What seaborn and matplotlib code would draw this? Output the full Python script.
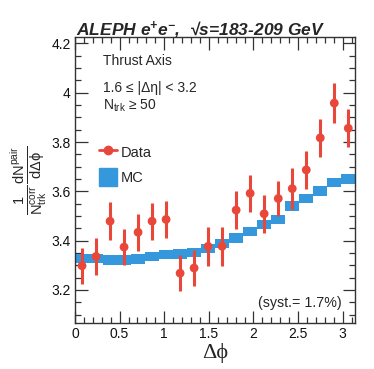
import numpy as np
import pandas as pd
import matplotlib
matplotlib.use("Agg")
import matplotlib.pyplot as plt
from matplotlib.lines import Line2D
from matplotlib.patches import Patch
from matplotlib.ticker import MultipleLocator
import seaborn as sns

# bin centers in delta phi (20 bins from 0 to pi)
dphi = [0.079, 0.236, 0.393, 0.550, 0.707, 0.864, 1.021, 1.178, 1.335, 1.492,
        1.649, 1.806, 1.963, 2.120, 2.278, 2.435, 2.592, 2.749, 2.906, 3.063]
data_y = [3.298, 3.336, 3.479, 3.374, 3.434, 3.479, 3.486, 3.268, 3.289, 3.377,
          3.377, 3.524, 3.592, 3.509, 3.571, 3.611, 3.687, 3.817, 3.958, 3.856]
data_err = [0.074, 0.074, 0.076, 0.074, 0.076, 0.075, 0.076, 0.073, 0.074, 0.078,
            0.078, 0.076, 0.076, 0.078, 0.073, 0.082, 0.077, 0.076, 0.080, 0.078]
mc_y = [3.328, 3.328, 3.321, 3.321, 3.326, 3.335, 3.344, 3.346, 3.352, 3.367,
        3.389, 3.411, 3.438, 3.465, 3.487, 3.540, 3.571, 3.602, 3.635, 3.650]
mc_err = 0.019

red = "#e8473a"
blue = "#3598dc"

sns.set_theme(style="ticks")
plt.rcParams["font.family"] = ["Liberation Sans", "DejaVu Sans"]
plt.rcParams["mathtext.fontset"] = "custom"
plt.rcParams["mathtext.rm"] = "Liberation Sans"
plt.rcParams["mathtext.it"] = "Liberation Sans:italic"
plt.rcParams["mathtext.bf"] = "Liberation Sans:bold:italic"

df = pd.DataFrame({"dphi": dphi, "y": data_y, "err": data_err})

fig = plt.figure(figsize=(3.74, 3.69), dpi=100)
ax = fig.add_axes([0.2005, 0.124, 0.7495, 0.775])

# MC band drawn as steps
width = np.pi / 20
edges = np.append(np.array(dphi) - width / 2, np.pi)
mc = np.append(mc_y, mc_y[-1])
ax.fill_between(edges, mc - mc_err, mc + mc_err, step="post", color=blue,
                lw=0, zorder=2)

ax.errorbar(df["dphi"], df["y"], yerr=df["err"], fmt="none", ecolor=red,
            elinewidth=2.2, capsize=0, zorder=3)
sns.scatterplot(data=df, x="dphi", y="y", color=red, s=40, edgecolor="none",
                ax=ax, zorder=4, legend=False)

ax.set_xlim(0, np.pi)
ax.set_ylim(3.065, 4.225)
ax.xaxis.set_minor_locator(MultipleLocator(0.1))
ax.yaxis.set_minor_locator(MultipleLocator(0.05))
ax.set_xticks([0, 0.5, 1, 1.5, 2, 2.5, 3])
ax.set_xticklabels(["0", "0.5", "1", "1.5", "2", "2.5", "3"])
ax.set_yticks([3.2, 3.4, 3.6, 3.8, 4.0, 4.2])
ax.set_yticklabels(["3.2", "3.4", "3.6", "3.8", "4", "4.2"])
ax.tick_params(which="both", direction="in", top=True, right=True,
               colors="#333333", labelcolor="#111111", width=0.9)
ax.tick_params(which="major", length=9, labelsize=10, pad=3)
ax.tick_params(which="minor", length=4.5)
for s in ax.spines.values():
    s.set_linewidth(1.0)
    s.set_color("#333333")

ax.set_xlabel("Δϕ", fontsize=16, labelpad=1,
              family=["Liberation Serif", "DejaVu Serif"])
ax.set_ylabel(r"$\frac{1}{\mathrm{N}_{\mathrm{trk}}^{\mathrm{corr}}}\frac{\mathrm{dN}^{\mathrm{pair}}}{\mathrm{dΔϕ}}$",
              fontsize=15, labelpad=2)

fig.text(0.203, 0.905, r"ALEPH e$\mathbf{^{+}}$e$\mathbf{^{-}}$,  √s=183-209 GeV",
         fontsize=12.5, fontweight="bold", style="italic", ha="left", va="baseline")

ax.text(0.1, 0.917, "Thrust Axis", transform=ax.transAxes, fontsize=10, va="center")
ax.text(0.1, 0.823, r"1.6 ≤ |Δη| < 3.2", transform=ax.transAxes,
        fontsize=10, va="center")
ax.text(0.1, 0.76, r"N$_{\mathrm{trk}}$ ≥ 50", transform=ax.transAxes,
        fontsize=10, va="center")
ax.text(0.953, 0.07, "(syst.= 1.7%)", transform=ax.transAxes, fontsize=10.3,
        ha="right", va="center")

handles = [Line2D([0], [0], color=red, lw=2, marker="o", markersize=6),
           Patch(facecolor=blue, edgecolor=blue)]
ax.legend(handles, ["Data", "MC"], loc="upper left", bbox_to_anchor=(0.06, 0.655),
          frameon=False, fontsize=10.5, handlelength=1.2, handleheight=1.5,
          handletextpad=0.3, labelspacing=0.5, borderpad=0)

fig.savefig("out.png", dpi=100)
